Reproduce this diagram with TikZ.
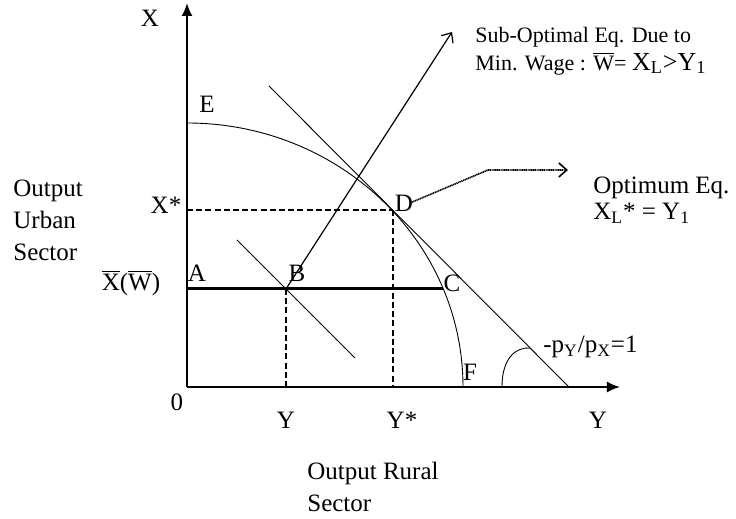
\documentclass[tikz,border=0pt]{standalone}
\usepackage{fontspec}
\setmainfont{Liberation Serif}
\usetikzlibrary{arrows.meta}
\tikzset{
  axis/.style={line width=1pt, -{Latex[length=6.5pt,width=5.5pt]}},
  guide/.style={dash pattern=on 3pt off 1.6pt, line width=1pt},
  thinline/.style={line width=0.45pt},
  pointer/.style={line width=0.6pt, -{Straight Barb[length=4pt,width=7pt]}},
}
\begin{document}
\begin{tikzpicture}[x=0.5pt, y=0.5pt,
  every node/.style={font=\fontsize{12.5}{16}\selectfont, inner sep=0pt}]
  \useasboundingbox (-187,-132) rectangle (549,387);

  % points
  \coordinate (O) at (0,0);
  \coordinate (Xtop) at (0,384);
  \coordinate (Yend) at (433,0);
  \coordinate (E) at (0,264);
  \coordinate (D) at (206,177);
  \coordinate (A) at (0,98);
  \coordinate (B) at (99,98);
  \coordinate (C) at (256,98);
  \coordinate (Ttop) at (82,301);
  \coordinate (Tbot) at (382,0);
  \coordinate (Wtop) at (50,147);
  \coordinate (Wbot) at (168,29);
  \coordinate (subtip) at (265,355);
  \coordinate (Dstart) at (223,184);
  \coordinate (Dbend) at (301,217);
  \coordinate (opttip) at (381,217);

  % axes
  \draw[axis] (O) -- (Xtop);
  \draw[axis] (O) -- (Yend);

  % frontier
  \draw[thinline] (E) arc[start angle=90, end angle=0, x radius=276, y radius=264];

  % price lines
  \draw[thinline] (Ttop) -- (Tbot);
  \draw[thinline] (Wtop) -- (Wbot);
  \draw[thinline] (315,0) .. controls (315,28) and (328,40) .. (343,39);

  % min wage line
  \draw[line width=1.5pt] (A) -- (C);

  % guides
  \draw[guide] (D -| O) -- (D);
  \draw[guide] (D) -- (D |- O);
  \draw[guide] (B) -- (B |- O);

  % pointers
  \draw[pointer] (B) -- (subtip);
  \draw[pointer, line width=0.8pt, dash pattern=on 0.6pt off 0.3pt] (Dstart) -- (Dbend) -- (opttip);

  % labels
  \node (lX) at (-37,369) {X};
  \node (l0) at (-10,-15) {0};
  \node (lE) at (20,283) {E};
  \node (lF) at (283,15) {F};
  \node (lD) at (217,184) {D};
  \node (lC) at (265,104) {C};
  \node (lB) at (110,114) {B};
  \node (lA) at (10,114) {A};
  \node (lXbar) at (-56,104) {$\overline{\mbox{X}}$($\overline{\mbox{W}}$)};
  \node (lXs) at (-21,182) {X*};
  \node (lY) at (99,-33) {Y};
  \node (lYs) at (215,-33) {Y*};
  \node (lYax) at (411,-33) {Y};
  \node[anchor=west, align=left] (lrural) at (120,-100) {Output Rural\\Sector};
  \node[anchor=west, align=left] (lurban) at (-174,167) {Output\\Urban\\Sector};
  \node[anchor=west, align=left, font=\fontsize{12.5}{13}\selectfont] (lopt) at (406,187)
    {Optimum Eq.\\X\textsubscript{L}* = Y\textsubscript{1}};
  \node[anchor=west, align=left, font=\fontsize{11}{14}\selectfont] (lsub) at (288,336)
    {Sub-Optimal Eq. Due to\\Min. Wage : $\overline{\mbox{W}}$= {\fontsize{13}{14}\selectfont X\textsubscript{L}>Y\textsubscript{1}}};
  \node[anchor=west] (lslope) at (356,40) {-p\textsubscript{Y}/p\textsubscript{X}=1};
\end{tikzpicture}
\end{document}
